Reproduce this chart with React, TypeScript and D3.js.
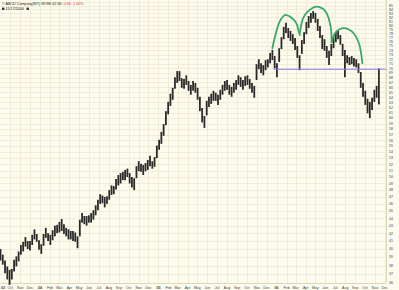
import React from 'react';
import * as d3 from 'd3';

const W = 399;
const H = 290;
const PLOT_R = 386;
const PLOT_B = 283;

const START = new Date(2003, 8, 1);
const END = new Date(2006, 11, 5);

// weekly high / low prices (week starting Mondays from Sep 1 2003)
const HIGHS = [
  40.0, 39.3, 38.6, 37.9, 37.5, 37.6, 38.7, 39.1, 39.7, 40.5,
  40.9, 41.5, 41.0, 41.0, 41.8, 42.5, 41.9, 41.1, 40.6, 41.9,
  42.7, 42.0, 41.8, 42.4, 43.0, 43.1, 43.5, 43.9, 43.2, 42.7,
  42.5, 42.3, 42.3, 42.1, 41.6, 43.8, 44.7, 44.3, 44.3, 44.4,
  44.7, 45.1, 45.8, 46.6, 47.4, 47.2, 47.0, 47.1, 48.0, 48.7,
  48.6, 49.7, 50.3, 50.6, 50.8, 51.1, 51.3, 50.6, 50.0, 49.8,
  51.7, 52.5, 52.1, 51.9, 52.2, 52.7, 53.4, 52.5, 53.2, 55.1,
  56.1, 57.5, 58.9, 61.3, 63.1, 64.7, 65.9, 68.1, 69.4, 69.4,
  67.9, 67.7, 68.5, 67.3, 66.5, 67.3, 66.9, 65.9, 64.1, 61.9,
  60.4, 63.3, 64.1, 64.7, 65.3, 64.9, 64.5, 65.5, 66.5, 67.3,
  67.5, 66.5, 66.1, 66.9, 67.5, 68.5, 68.1, 67.5, 68.3, 68.5,
  67.7, 66.9, 66.3, 70.9, 72.0, 71.1, 70.7, 71.8, 72.0, 73.4,
  74.1, 72.7, 71.1, 74.5, 77.1, 79.6, 80.6, 79.3, 78.6, 77.8,
  76.9, 75.0, 72.9, 76.4, 78.3, 80.8, 82.3, 83.1, 83.6, 83.1,
  81.6, 79.8, 77.6, 76.6, 75.0, 73.9, 75.5, 77.4, 78.3, 78.6,
  77.6, 75.5, 74.1, 72.9, 72.5, 72.7, 72.3, 72.0, 71.1, 69.2,
  66.9, 65.3, 63.7, 63.1, 63.9, 65.5, 66.3, 70.0,
];
const LOWS = [
  38.6, 38.1, 37.1, 36.4, 35.8, 36.4, 37.3, 37.9, 38.5, 39.3,
  39.7, 40.3, 40.0, 39.8, 40.5, 41.2, 40.9, 39.9, 39.4, 40.4,
  41.4, 41.0, 40.5, 41.1, 41.6, 42.0, 42.1, 42.3, 41.9, 41.6,
  41.2, 41.2, 41.0, 40.9, 40.1, 41.6, 43.4, 43.2, 43.0, 43.4,
  43.4, 43.8, 44.4, 45.1, 46.0, 46.1, 45.5, 46.0, 46.6, 47.3,
  47.4, 48.1, 48.7, 49.0, 49.5, 49.5, 50.0, 49.0, 48.4, 48.0,
  49.8, 50.9, 50.8, 50.3, 50.9, 51.1, 51.7, 51.3, 51.6, 53.0,
  54.4, 55.4, 56.8, 58.7, 60.7, 62.3, 63.5, 65.7, 66.9, 67.3,
  65.9, 65.7, 66.5, 65.3, 64.5, 65.3, 64.9, 63.5, 61.3, 59.2,
  58.2, 60.5, 62.1, 62.7, 63.3, 63.3, 62.5, 63.5, 64.5, 65.3,
  65.5, 64.5, 64.1, 64.9, 65.5, 66.5, 66.1, 65.5, 66.3, 66.5,
  65.7, 64.9, 63.9, 67.5, 69.8, 69.0, 68.5, 69.6, 70.2, 71.1,
  71.8, 70.0, 68.1, 71.4, 74.3, 76.6, 78.1, 76.9, 76.2, 75.5,
  74.1, 72.3, 69.6, 73.2, 75.5, 77.8, 79.3, 80.6, 81.6, 80.6,
  78.6, 76.9, 74.3, 73.9, 72.3, 70.7, 72.7, 74.5, 75.9, 76.6,
  75.3, 72.7, 68.1, 71.1, 70.7, 70.9, 70.4, 70.2, 69.0, 65.9,
  64.1, 62.5, 60.9, 60.0, 61.5, 63.1, 63.9, 62.6,
];

const PRICE_TICKS = d3.range(36, 87);
const MONTH_ABBR = ['Jan', 'Feb', 'Mar', 'Apr', 'May', 'Jun', 'Jul', 'Aug', 'Sep', 'Oct', 'Nov', 'Dec'];

const TITLE_MAIN = '\u00A9 ABCD Company(NY) NYSE  62.84';
const TITLE_CHANGE = '-0.66  -1.05%';
const SUBTITLE = '11/17/2006';

const NECKLINE_PRICE = 69.8;
const NECKLINE_START = '2005-12-23';

const LEFT_SHOULDER: [string, number][] = [
  ['2005-12-19', 74.5], ['2006-01-13', 81.3], ['2006-01-29', 82.6],
  ['2006-03-01', 80.8], ['2006-03-11', 78.3], ['2006-03-14', 77.6],
];
const HEAD: [string, number][] = [
  ['2006-03-14', 78.1], ['2006-03-26', 82.1], ['2006-04-22', 84.4],
  ['2006-05-11', 84.7], ['2006-06-02', 83.4], ['2006-06-17', 79.6], ['2006-06-20', 75.9],
];
const RIGHT_SHOULDER: [string, number][] = [
  ['2006-06-20', 75.9], ['2006-07-03', 78.3], ['2006-07-27', 79.3],
  ['2006-08-24', 78.3], ['2006-09-12', 75.7], ['2006-09-23', 71.1],
];

const parse = d3.timeParse('%Y-%m-%d');
const FONT = 'Liberation Sans, Arial, sans-serif';

export default function App() {
  const x = d3.scaleTime().domain([START, END]).range([0.5, PLOT_R]);
  const y = d3.scaleLog().domain([36, 86.5]).range([PLOT_B, 0]);

  const months = d3.timeMonth.range(START, END);
  const bars = HIGHS.map((h, i) => ({ date: d3.timeDay.offset(START, 7 * i), high: h, low: LOWS[i] }));

  const arcLine = d3
    .line<[string, number]>()
    .x((d) => x(parse(d[0]) as Date))
    .y((d) => y(d[1]))
    .curve(d3.curveCatmullRom.alpha(0.5));

  const bg = '#fcfbed';
  const grid = '#f0ecd6';

  return (
    <svg width={W} height={H} style={{ position: 'absolute', left: 0, top: 0, background: bg }} fontFamily={FONT}>
      <rect x={0} y={0} width={W} height={H} fill={bg} />
      {PRICE_TICKS.map((p) => (
        <line key={'h' + p} x1={0} x2={PLOT_R} y1={Math.round(y(p)) + 0.5} y2={Math.round(y(p)) + 0.5} stroke={grid} strokeWidth={1} />
      ))}
      {months.slice(1).map((m, i) => (
        <line key={'v' + i} x1={Math.round(x(m)) + 0.5} x2={Math.round(x(m)) + 0.5} y1={0} y2={PLOT_B} stroke={grid} strokeWidth={1} />
      ))}
      <line x1={PLOT_R + 0.5} x2={PLOT_R + 0.5} y1={0} y2={PLOT_B} stroke="#ddd8bc" strokeWidth={1} />
      <line x1={0} x2={PLOT_R} y1={PLOT_B + 0.5} y2={PLOT_B + 0.5} stroke="#ddd8bc" strokeWidth={1} />

      {/* title */}
      <text x={2} y={4.5} fontSize={3.7} fill="#222">
        {TITLE_MAIN}
        <tspan fill="#e03030">{'  ' + TITLE_CHANGE}</tspan>
      </text>
      <rect x={2} y={7.6} width={2.4} height={2.4} fill="#333" />
      <text x={5.5} y={10} fontSize={3.7} fill="#222">{SUBTITLE}</text>
      <rect x={26.5} y={7.6} width={2.4} height={2.4} fill="#333" />

      {/* price bars */}
      {bars.map((b, i) => (
        <line key={'b' + i} x1={x(b.date)} x2={x(b.date)} y1={y(b.high)} y2={y(b.low)} stroke="#2a2a2a" strokeWidth={1.8} />
      ))}

      {/* neckline */}
      <line
        x1={x(parse(NECKLINE_START) as Date)}
        x2={PLOT_R}
        y1={y(NECKLINE_PRICE)}
        y2={y(NECKLINE_PRICE)}
        stroke="#8a78e6"
        strokeWidth={1}
      />

      {/* head and shoulders arcs */}
      {[LEFT_SHOULDER, HEAD, RIGHT_SHOULDER].map((arc, i) => (
        <path key={'a' + i} d={arcLine(arc) || ''} fill="none" stroke="#3aa866" strokeWidth={1.8} strokeLinecap="round" />
      ))}

      {/* right axis labels */}
      {PRICE_TICKS.filter((p) => y(p) > 3).map((p) => (
        <text key={'yl' + p} x={389} y={y(p) + 1.3} fontSize={3.6} fill="#444">
          {p}
        </text>
      ))}

      {/* bottom axis labels */}
      {months.map((m, i) => {
        const isYear = m.getMonth() === 0 || i === 0;
        const label = isYear ? d3.timeFormat('%y')(m) : MONTH_ABBR[m.getMonth()];
        return (
          <text
            key={'xl' + i}
            x={i === 0 ? 1 : x(m)}
            y={288.5}
            fontSize={3.6}
            textAnchor={i === 0 ? 'start' : 'middle'}
            fontWeight={isYear ? 'bold' : 'normal'}
            fill="#444"
          >
            {label}
          </text>
        );
      })}
    </svg>
  );
}
